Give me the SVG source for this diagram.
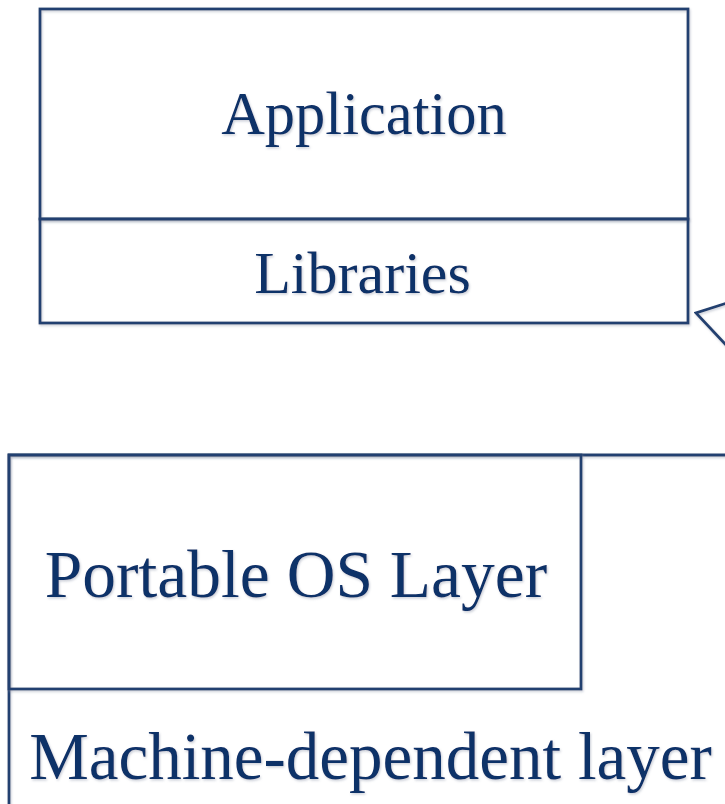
<svg xmlns="http://www.w3.org/2000/svg" width="725" height="804" viewBox="0 0 725 804">
  <style>
    .frame { fill: none; stroke: #23416f; stroke-width: 2.8; }
    .label { font-family: "Liberation Serif", "Times New Roman", serif; fill: #0e3068; text-anchor: middle; }
  </style>
  <defs>
    <filter id="soft" x="-5%" y="-5%" width="110%" height="110%">
      <feDropShadow dx="1" dy="1.5" stdDeviation="1" flood-color="#8a93a6" flood-opacity="0.45"/>
    </filter>
  </defs>
  <rect width="725" height="804" fill="#ffffff"/>

  <g id="application" filter="url(#soft)">
    <rect class="frame" x="40" y="9" width="648" height="210"/>
    <text class="label" x="364" y="134" font-size="60.5">Application</text>
  </g>

  <g id="libraries" filter="url(#soft)">
    <rect class="frame" x="40" y="219" width="648" height="104"/>
    <text class="label" x="362.5" y="293" font-size="60">Libraries</text>
  </g>

  <g id="machine-dependent-layer" filter="url(#soft)">
    <path class="frame" d="M 727 455 L 9 455 L 9 806"/>
    <text class="label" x="370.5" y="779" font-size="67">Machine-dependent layer</text>
  </g>

  <g id="portable-os-layer" filter="url(#soft)">
    <rect class="frame" x="9" y="455" width="572" height="234"/>
    <text class="label" x="296" y="597" font-size="67.5">Portable OS Layer</text>
  </g>

  <g id="connectors" filter="url(#soft)">
    <!-- callout pointer aimed at the Libraries box -->
    <path class="frame" d="M 727 303 L 696 313 L 727 346"/>
  </g>
</svg>
